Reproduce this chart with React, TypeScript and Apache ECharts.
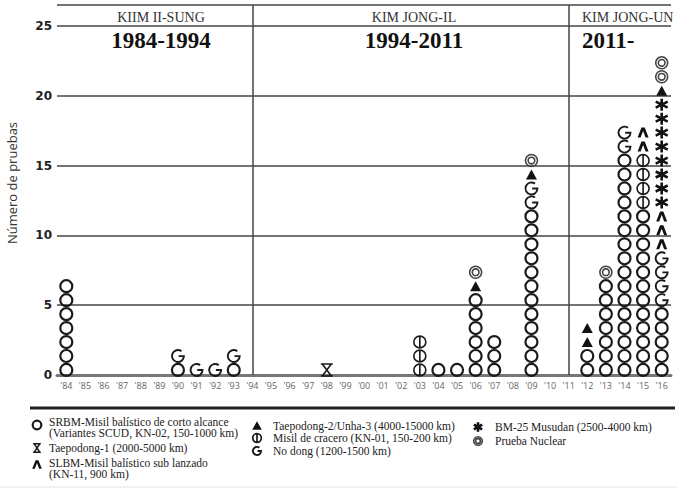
import React, { useEffect, useRef } from 'react';
import * as echarts from 'echarts';

const YEARS = ["'84", "'85", "'86", "'87", "'88", "'89", "'90", "'91", "'92", "'93", "'94", "'95", "'96", "'97", "'98", "'99", "'00", "'01", "'02", "'03", "'04", "'05", "'06", "'07", "'08", "'09", "'10", "'11", "'12", "'13", "'14", "'15", "'16"];

// number of tests per year (index 0 = 1984 ... 32 = 2016), in stacking order
const SRBM = [7, 0, 0, 0, 0, 0, 1, 0, 0, 1, 0, 0, 0, 0, 0, 0, 0, 0, 0, 0, 1, 1, 6, 3, 0, 12, 0, 0, 2, 7, 16, 12, 5];
const CRUISE = [0, 0, 0, 0, 0, 0, 0, 0, 0, 0, 0, 0, 0, 0, 0, 0, 0, 0, 0, 3, 0, 0, 0, 0, 0, 0, 0, 0, 0, 0, 0, 4, 0];
const NODONG = [0, 0, 0, 0, 0, 0, 1, 1, 1, 1, 0, 0, 0, 0, 0, 0, 0, 0, 0, 0, 0, 0, 0, 0, 0, 2, 0, 0, 0, 0, 2, 0, 4];
const SLBM = [0, 0, 0, 0, 0, 0, 0, 0, 0, 0, 0, 0, 0, 0, 0, 0, 0, 0, 0, 0, 0, 0, 0, 0, 0, 0, 0, 0, 0, 0, 0, 2, 3];
const MUSUDAN = [0, 0, 0, 0, 0, 0, 0, 0, 0, 0, 0, 0, 0, 0, 0, 0, 0, 0, 0, 0, 0, 0, 0, 0, 0, 0, 0, 0, 0, 0, 0, 0, 8];
const TAEPODONG2 = [0, 0, 0, 0, 0, 0, 0, 0, 0, 0, 0, 0, 0, 0, 0, 0, 0, 0, 0, 0, 0, 0, 1, 0, 0, 1, 0, 0, 2, 0, 0, 0, 1];
const TAEPODONG1 = [0, 0, 0, 0, 0, 0, 0, 0, 0, 0, 0, 0, 0, 0, 1, 0, 0, 0, 0, 0, 0, 0, 0, 0, 0, 0, 0, 0, 0, 0, 0, 0, 0];
const NUCLEAR = [0, 0, 0, 0, 0, 0, 0, 0, 0, 0, 0, 0, 0, 0, 0, 0, 0, 0, 0, 0, 0, 0, 1, 0, 0, 1, 0, 0, 0, 1, 0, 0, 2];

const ERA_YEARS = ["'94", "'11"];
const ERA_LEADERS = ['KIIM II-SUNG', 'KIM JONG-IL', 'KIM JONG-UN'];
const ERA_PERIODS = ['1984-1994', '1994-2011', '2011-'];

const LEGEND_TEXT: Record<string, string[]> = {
  srbm: ['SRBM-Misil balístico de corto alcance', '(Variantes SCUD, KN-02, 150-1000 km)'],
  td1: ['Taepodong-1 (2000-5000 km)'],
  slbm: ['SLBM-Misil balístico sub lanzado', '(KN-11, 900 km)'],
  td2: ['Taepodong-2/Unha-3 (4000-15000 km)'],
  cruise: ['Misil de cracero (KN-01, 150-200 km)'],
  nodong: ['No dong (1200-1500 km)'],
  musudan: ['BM-25 Musudan (2500-4000 km)'],
  nuclear: ['Prueba Nuclear'],
};

const PATHS: Record<string, string> = {
  srbm: 'M1,10 A9,9 0 1 1 19,10 A9,9 0 1 1 1,10 Z',
  cruise: 'M1,10 A9,9 0 1 1 19,10 A9,9 0 1 1 1,10 Z M10,0 L10,20',
  nodong: 'M15,3 A8.5,8.5 0 1 0 18.5,10 L11,10',
  slbm: 'M0,18 L7,0 L13,0 L20,18 L14.5,18 L10,6 L5.5,18 Z',
  musudan: 'M10,0 L10,20 M1.3,5 L18.7,15 M1.3,15 L18.7,5',
  td2: 'M10,0 L20,18 L0,18 Z',
  td1: 'M2,1 L18,1 M2,19 L18,19 M4,1 L16,19 M16,1 L4,19',
  nuclear: 'M1,10 A9,9 0 1 1 19,10 A9,9 0 1 1 1,10 Z M5,10 A5,5 0 1 1 15,10 A5,5 0 1 1 5,10 Z',
};

Object.keys(PATHS).forEach((k) => {
  echarts.graphic.registerShape('sym_' + k, echarts.graphic.extendPath(PATHS[k], {}));
});

type T = { key: string; name: string; counts: number[]; size: number | number[]; fill: string; stroke: string; lw: number };
const TYPES: T[] = [
  { key: 'srbm', name: 'SRBM', counts: SRBM, size: 12, fill: 'rgba(0,0,0,0)', stroke: '#1a1a1a', lw: 2.2 },
  { key: 'cruise', name: 'Crucero', counts: CRUISE, size: [12, 13], fill: 'rgba(0,0,0,0)', stroke: '#1a1a1a', lw: 1.7 },
  { key: 'nodong', name: 'No dong', counts: NODONG, size: 12, fill: 'rgba(0,0,0,0)', stroke: '#1a1a1a', lw: 1.9 },
  { key: 'slbm', name: 'SLBM', counts: SLBM, size: [11, 10], fill: '#111', stroke: '#111', lw: 0 },
  { key: 'musudan', name: 'Musudan', counts: MUSUDAN, size: 12, fill: 'rgba(0,0,0,0)', stroke: '#111', lw: 2.6 },
  { key: 'td2', name: 'Taepodong-2', counts: TAEPODONG2, size: [11, 10], fill: '#111', stroke: '#111', lw: 0 },
  { key: 'td1', name: 'Taepodong-1', counts: TAEPODONG1, size: 12, fill: 'rgba(0,0,0,0)', stroke: '#1a1a1a', lw: 1.6 },
  { key: 'nuclear', name: 'Nuclear', counts: NUCLEAR, size: 12, fill: 'rgba(0,0,0,0)', stroke: '#444', lw: 1.6 },
];

const LEGEND_POS: Record<string, [number, number, number]> = {
  srbm: [37, 425, 427],
  td1: [37, 448, 448],
  slbm: [37, 465, 468],
  td2: [257, 426, 426],
  cruise: [257, 438, 438],
  nodong: [257, 451, 451],
  musudan: [478, 427, 427],
  nuclear: [478, 441, 441],
};

const SERIF = '"Liberation Serif", "Times New Roman", serif';

export default function App() {
  const ref = useRef<HTMLDivElement>(null);
  useEffect(() => {
    if (!ref.current) return;
    const chart = echarts.init(ref.current, undefined, { renderer: 'svg' });
    const base = YEARS.map(() => 0);
    const series: any[] = TYPES.map((t, ti) => {
      const data: number[][] = [];
      t.counts.forEach((c, i) => {
        for (let j = 0; j < c; j++) data.push([i, base[i] + j + 0.36]);
        base[i] += c;
      });
      const s: any = {
        type: 'scatter',
        name: t.name,
        data,
        symbol: 'path://' + PATHS[t.key],
        symbolSize: t.size,
        itemStyle: { color: t.fill, borderColor: t.stroke, borderWidth: t.lw, opacity: 1 },
        silent: true,
        z: 3,
      };
      if (ti === 0) {
        s.markLine = {
          silent: true,
          symbol: ['none', 'none'],
          label: { show: false },
          lineStyle: { color: '#444', width: 1.5, type: 'solid' },
          data: ERA_YEARS.map((y) => ({ xAxis: y })),
          z: 1,
        };
      }
      return s;
    });

    const graphic: any[] = [];
    const headerX = [161, 414, 582];
    ERA_LEADERS.forEach((n, i) => {
      graphic.push({
        type: 'text', x: headerX[i], y: 17,
        style: { text: n, font: '14px ' + SERIF, fill: '#333', textAlign: i === 2 ? 'left' : 'center', textVerticalAlign: 'middle' },
      });
      graphic.push({
        type: 'text', x: headerX[i], y: 40,
        style: { text: ERA_PERIODS[i], font: 'bold 23px ' + SERIF, fill: '#111', textAlign: i === 2 ? 'left' : 'center', textVerticalAlign: 'middle' },
      });
    });
    graphic.push({
      type: 'text', x: 12, y: 183, rotation: Math.PI / 2,
      style: { text: 'Número de pruebas', font: '13px "Open Sans", sans-serif', fill: '#333', textAlign: 'center', textVerticalAlign: 'middle' },
    });
    graphic.push({ type: 'line', shape: { x1: 30, y1: 408, x2: 675, y2: 408 }, style: { stroke: '#222', lineWidth: 3 } });
    graphic.push({ type: 'line', shape: { x1: 0, y1: 487, x2: 677, y2: 487 }, style: { stroke: '#e2e2e2', lineWidth: 1 } });

    TYPES.forEach((t) => {
      const [cx, cy, ty] = LEGEND_POS[t.key];
      const sc = 0.48;
      graphic.push({
        type: 'sym_' + t.key,
        x: cx - 10 * sc, y: cy - 10 * sc, scaleX: sc, scaleY: sc,
        style: { fill: t.fill, stroke: t.lw ? t.stroke : 'none', lineWidth: t.lw / sc },
      });
      const lines = LEGEND_TEXT[t.key];
      graphic.push({
        type: 'text', x: cx + 12 + (cx > 250 && cx < 300 ? 4 : 0) + (cx > 400 ? 5 : 0), y: ty,
        style: {
          text: lines.join('\n'), font: '11.5px ' + SERIF, lineHeight: 11, fill: '#222',
          textAlign: 'left', textVerticalAlign: 'middle',
        },
      });
    });

    chart.setOption({
      animation: false,
      backgroundColor: '#fff',
      grid: { left: 57, right: 6, top: 5, bottom: 114 },
      xAxis: {
        type: 'category',
        data: YEARS,
        boundaryGap: true,
        axisLine: { show: true, lineStyle: { color: '#777', width: 3 } },
        axisTick: { show: false },
        axisLabel: { color: '#666', fontSize: 9, margin: 6, fontFamily: '"Open Sans", sans-serif', interval: 0 },
        splitLine: { show: false },
      },
      yAxis: {
        type: 'value',
        min: 0,
        max: 26.5,
        interval: 5,
        axisLine: { show: false },
        axisTick: { show: false },
        axisLabel: {
          color: '#222', fontSize: 12, fontWeight: 'bold', fontFamily: '"DejaVu Sans", sans-serif', margin: 5,
          formatter: (v: number) => (v % 5 === 0 ? String(v) : ''),
        },
        splitLine: { show: true, lineStyle: { color: '#444', width: 1.5 } },
      },
      series,
      graphic,
    });
    return () => chart.dispose();
  }, []);
  return <div ref={ref} style={{ position: 'fixed', left: 0, top: 0, width: 677, height: 489, background: '#fff' }} />;
}
